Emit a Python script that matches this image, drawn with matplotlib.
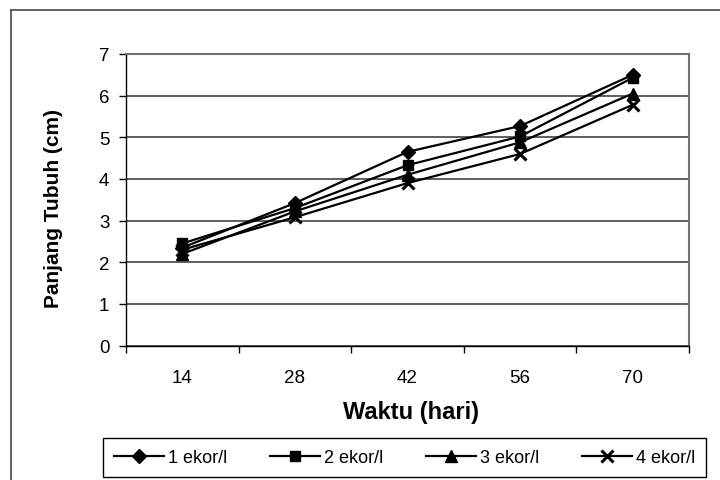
import matplotlib
matplotlib.use('Agg')
import matplotlib.pyplot as plt
from matplotlib.lines import Line2D
import numpy as np

plt.rcParams['font.family'] = ['Liberation Sans', 'DejaVu Sans']

days = ['14', '28', '42', '56', '70']
series_names = ['1 ekor/l', '2 ekor/l', '3 ekor/l', '4 ekor/l']
s1 = [2.35, 3.42, 4.65, 5.27, 6.50]
s2 = [2.45, 3.30, 4.33, 5.02, 6.43]
s3 = [2.20, 3.22, 4.10, 4.88, 6.05]
s4 = [2.30, 3.08, 3.90, 4.60, 5.78]
markers = ['D', 's', '^', 'x']
msizes = [7.5, 7, 8, 8]

W, H = 720, 481
fig = plt.figure(figsize=(7.2, 4.81), dpi=100)
ax = fig.add_axes([126 / W, 1 - 346.5 / H, (689 - 126) / W, (346.5 - 55) / H])

x = np.arange(len(days))
for vals, name, m, ms in zip([s1, s2, s3, s4], series_names, markers, msizes):
    ax.plot(x, vals, color='black', lw=1.6, marker=m, ms=ms, mew=2.2 if m == 'x' else 1,
            mfc='black', mec='black', label=name, zorder=3)

ax.set_xlim(-0.5, len(days) - 0.5)
ax.set_ylim(0, 7)
ax.set_yticks(range(0, 8))
ax.set_xticks(x)
ax.set_xticklabels(days)
ax.set_xticks(np.arange(-0.5, len(days)), minor=True)
ax.tick_params(axis='x', which='major', length=0, pad=17, labelsize=13.5)
ax.tick_params(axis='x', which='minor', length=5, width=1, direction='out')
ax.tick_params(axis='y', length=5, width=1, direction='out', pad=7, labelsize=13.5)

ax.grid(True, axis='y', color='#333333', lw=1.1, zorder=0)
ax.set_axisbelow(True)
for side in ['left', 'bottom']:
    ax.spines[side].set_color('black')
    ax.spines[side].set_linewidth(1)
for side in ['top', 'right']:
    ax.spines[side].set_color('#707070')
    ax.spines[side].set_linewidth(1.5)

fig.text(411 / W, 1 - 413 / H, 'Waktu (hari)', fontsize=17, fontweight='bold',
         ha='center', va='center')
fig.text(54 / W, 1 - 209 / H, 'Panjang Tubuh (cm)', fontsize=15, fontweight='bold',
         rotation=90, ha='center', va='center')

# outer frame (cut off at right and bottom)
fig.add_artist(Line2D([11 / W, 11 / W], [0, 1 - 11 / H], color='#555555', lw=1.3))
fig.add_artist(Line2D([11 / W, 1], [1 - 11 / H, 1 - 11 / H], color='#555555', lw=1.3))

leg = fig.legend(*ax.get_legend_handles_labels(), loc='center', ncol=4, mode='expand',
                 bbox_to_anchor=(94 / W, 1 - 479 / H, 621 / W, 41 / H),
                 fontsize=13, handlelength=2.8, handletextpad=0.2, borderpad=0.6,
                 fancybox=False, framealpha=1, edgecolor='black')
leg.get_frame().set_linewidth(1)

fig.savefig('out.png', dpi=100)
